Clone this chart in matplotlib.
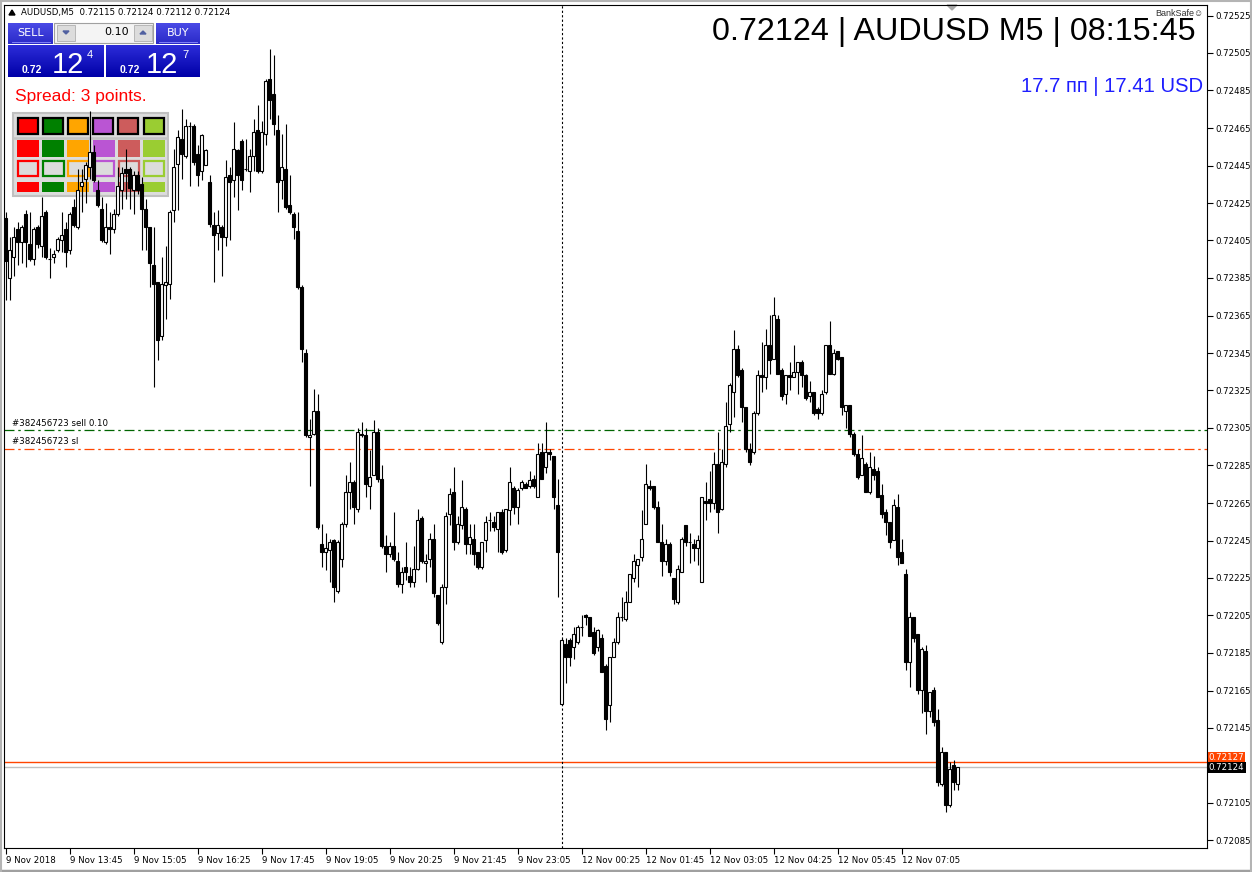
import matplotlib

matplotlib.use("Agg")

import matplotlib.pyplot as plt  # noqa: E402
import numpy as np  # noqa: E402
from matplotlib.patches import Polygon, Rectangle  # noqa: E402

# AUDUSD M5, 9 Nov 2018 12:25 -> 12 Nov 2018 08:15 (prices in points, /1e5)
opens = [
    72417, 72385, 72396, 72411, 72404, 72419, 72403, 72395, 72412, 72402,
    72420, 72395, 72396, 72400, 72405, 72411, 72400, 72423, 72412, 72434,
    72438, 72444, 72452, 72432, 72422, 72404, 72412, 72411, 72419, 72432,
    72443, 72443, 72432, 72440, 72435, 72422, 72412, 72392, 72383, 72354,
    72381, 72382, 72421, 72446, 72459, 72450, 72466, 72466, 72451, 72442,
    72445, 72436, 72413, 72409, 72412, 72407, 72440, 72437, 72453, 72458,
    72443, 72442, 72450, 72464, 72442, 72462, 72491, 72483, 72464, 72437,
    72443, 72424, 72419, 72410, 72380, 72345, 72300, 72302, 72314, 72243,
    72239, 72240, 72245, 72218, 72235, 72254, 72271, 72276, 72262, 72302,
    72301, 72274, 72280, 72303, 72278, 72242, 72238, 72242, 72234, 72222,
    72231, 72226, 72223, 72230, 72257, 72233, 72235, 72246, 72216, 72191,
    72220, 72259, 72271, 72244, 72253, 72262, 72243, 72246, 72239, 72231,
    72245, 72256, 72255, 72251, 72260, 72240, 72261, 72273, 72263, 72273,
    72275, 72274, 72278, 72268, 72292, 72284, 72292, 72290, 72264, 72158,
    72190, 72192, 72188, 72191, 72199, 72205, 72204, 72196, 72188, 72193,
    72178, 72157, 72183, 72191, 72204, 72203, 72212, 72225, 72232, 72236,
    72254, 72274, 72274, 72263, 72244, 72234, 72243, 72225, 72212, 72228,
    72253, 72244, 72243, 72241, 72223, 72266, 72267, 72265, 72286, 72262,
    72286, 72307, 72324, 72347, 72336, 72316, 72294, 72292, 72313, 72333,
    72332, 72349, 72342, 72363, 72336, 72323, 72333, 72332, 72335, 72340,
    72333, 72322, 72324, 72315, 72313, 72324, 72349, 72334, 72346, 72343,
    72314, 72317, 72302, 72291, 72280, 72286, 72271, 72283, 72282, 72269,
    72260, 72255, 72245, 72263, 72239, 72227, 72180, 72204, 72195, 72165,
    72186, 72154, 72165, 72149, 72115, 72132, 72104, 72125, 72115,
]
highs = [
    72420, 72407, 72412, 72415, 72413, 72421, 72420, 72412, 72413, 72428,
    72421, 72401, 72400, 72407, 72420, 72415, 72420, 72427, 72443, 72443,
    72447, 72474, 72456, 72437, 72428, 72425, 72420, 72422, 72444, 72444,
    72454, 72444, 72442, 72442, 72439, 72427, 72412, 72412, 72383, 72396,
    72402, 72421, 72454, 72464, 72475, 72470, 72468, 72467, 72456, 72462,
    72454, 72440, 72420, 72421, 72413, 72448, 72444, 72468, 72454, 72459,
    72459, 72454, 72470, 72477, 72469, 72491, 72507, 72504, 72472, 72462,
    72467, 72440, 72420, 72420, 72381, 72347, 72310, 72326, 72323, 72254,
    72249, 72246, 72246, 72245, 72255, 72280, 72287, 72277, 72305, 72308,
    72305, 72293, 72309, 72305, 72285, 72248, 72244, 72260, 72239, 72231,
    72244, 72231, 72242, 72262, 72258, 72238, 72249, 72254, 72216, 72222,
    72260, 72273, 72284, 72258, 72277, 72263, 72254, 72254, 72239, 72244,
    72258, 72260, 72258, 72260, 72262, 72262, 72284, 72274, 72273, 72277,
    72276, 72282, 72280, 72297, 72297, 72308, 72294, 72290, 72278, 72193,
    72193, 72193, 72199, 72200, 72205, 72206, 72204, 72199, 72198, 72195,
    72179, 72183, 72193, 72207, 72215, 72218, 72227, 72238, 72235, 72261,
    72286, 72277, 72274, 72266, 72254, 72246, 72244, 72225, 72232, 72247,
    72253, 72249, 72246, 72248, 72268, 72276, 72282, 72292, 72303, 72294,
    72319, 72329, 72357, 72349, 72337, 72316, 72297, 72314, 72336, 72351,
    72358, 72365, 72375, 72365, 72337, 72333, 72340, 72349, 72340, 72341,
    72334, 72330, 72324, 72316, 72325, 72349, 72362, 72347, 72346, 72343,
    72317, 72317, 72303, 72294, 72301, 72287, 72292, 72290, 72284, 72275,
    72262, 72255, 72267, 72270, 72246, 72230, 72207, 72204, 72195, 72188,
    72189, 72164, 72167, 72155, 72135, 72132, 72127, 72128, 72124,
]
lows = [
    72373, 72373, 72386, 72392, 72393, 72391, 72394, 72392, 72401, 72396,
    72395, 72385, 72393, 72399, 72399, 72391, 72398, 72412, 72411, 72420,
    72425, 72438, 72436, 72423, 72404, 72403, 72398, 72409, 72418, 72422,
    72427, 72422, 72419, 72430, 72400, 72400, 72380, 72327, 72341, 72352,
    72363, 72374, 72415, 72421, 72438, 72449, 72434, 72445, 72434, 72437,
    72445, 72412, 72383, 72400, 72386, 72402, 72405, 72428, 72421, 72432,
    72442, 72431, 72442, 72441, 72441, 72456, 72470, 72461, 72420, 72427,
    72422, 72419, 72406, 72379, 72340, 72300, 72274, 72301, 72251, 72231,
    72229, 72223, 72212, 72217, 72231, 72252, 72262, 72254, 72260, 72300,
    72268, 72262, 72280, 72276, 72241, 72228, 72236, 72234, 72220, 72217,
    72224, 72220, 72220, 72229, 72233, 72223, 72231, 72215, 72200, 72190,
    72211, 72253, 72240, 72243, 72251, 72238, 72238, 72232, 72230, 72230,
    72239, 72250, 72250, 72239, 72238, 72239, 72253, 72259, 72254, 72272,
    72273, 72273, 72273, 72268, 72278, 72281, 72288, 72262, 72215, 72157,
    72169, 72178, 72182, 72190, 72194, 72200, 72194, 72184, 72186, 72175,
    72144, 72148, 72183, 72190, 72202, 72202, 72212, 72223, 72220, 72234,
    72254, 72272, 72262, 72244, 72226, 72232, 72226, 72211, 72211, 72228,
    72242, 72233, 72234, 72232, 72223, 72256, 72260, 72262, 72249, 72261,
    72284, 72303, 72311, 72332, 72308, 72292, 72285, 72291, 72312, 72324,
    72326, 72334, 72342, 72334, 72320, 72318, 72325, 72332, 72323, 72327,
    72320, 72319, 72312, 72310, 72312, 72323, 72334, 72333, 72341, 72312,
    72305, 72300, 72290, 72278, 72280, 72271, 72270, 72277, 72268, 72257,
    72248, 72241, 72245, 72232, 72233, 72176, 72167, 72191, 72163, 72153,
    72142, 72151, 72146, 72114, 72114, 72100, 72103, 72112, 72112,
]
closes = [
    72394, 72400, 72407, 72404, 72412, 72404, 72395, 72411, 72403, 72418,
    72396, 72395, 72398, 72406, 72408, 72399, 72419, 72413, 72432, 72436,
    72445, 72452, 72437, 72424, 72405, 72412, 72411, 72419, 72434, 72441,
    72441, 72433, 72440, 72432, 72422, 72412, 72393, 72382, 72352, 72382,
    72383, 72420, 72444, 72460, 72451, 72466, 72466, 72447, 72440, 72461,
    72453, 72414, 72408, 72413, 72407, 72439, 72436, 72454, 72440, 72437,
    72443, 72450, 72463, 72442, 72463, 72490, 72480, 72467, 72436, 72444,
    72423, 72420, 72412, 72380, 72347, 72301, 72301, 72314, 72252, 72239,
    72241, 72244, 72220, 72244, 72254, 72271, 72276, 72263, 72303, 72301,
    72275, 72279, 72303, 72278, 72242, 72238, 72242, 72235, 72222, 72228,
    72228, 72223, 72230, 72256, 72234, 72234, 72246, 72217, 72201, 72220,
    72258, 72270, 72244, 72254, 72263, 72243, 72247, 72238, 72231, 72244,
    72255, 72256, 72252, 72260, 72239, 72262, 72276, 72263, 72272, 72276,
    72273, 72277, 72274, 72291, 72278, 72292, 72291, 72268, 72239, 72192,
    72183, 72183, 72195, 72199, 72199, 72204, 72194, 72185, 72197, 72175,
    72150, 72183, 72191, 72204, 72204, 72212, 72227, 72234, 72235, 72246,
    72275, 72273, 72263, 72244, 72234, 72243, 72228, 72214, 72230, 72246,
    72244, 72244, 72241, 72245, 72268, 72265, 72265, 72286, 72260, 72287,
    72306, 72328, 72347, 72333, 72316, 72294, 72287, 72313, 72333, 72332,
    72349, 72341, 72365, 72334, 72322, 72333, 72332, 72335, 72340, 72333,
    72321, 72324, 72313, 72313, 72323, 72349, 72334, 72345, 72342, 72316,
    72317, 72302, 72291, 72279, 72289, 72271, 72284, 72280, 72268, 72259,
    72255, 72244, 72264, 72236, 72233, 72180, 72204, 72193, 72165, 72187,
    72154, 72164, 72148, 72116, 72132, 72104, 72123, 72116, 72124,
]

x_labels = [
    "9 Nov 2018", "9 Nov 13:45", "9 Nov 15:05", "9 Nov 16:25", "9 Nov 17:45",
    "9 Nov 19:05", "9 Nov 20:25", "9 Nov 21:45", "9 Nov 23:05", "12 Nov 00:25",
    "12 Nov 01:45", "12 Nov 03:05", "12 Nov 04:25", "12 Nov 05:45", "12 Nov 07:05",
]
y_ticks = [0.72525 - 0.0002 * k for k in range(23)]

bid, ask = 0.72124, 0.72127
order_price, sl_price = 0.72304, 0.72294
day_break = 139  # first bar of 12 Nov
palette = ["#ff0000", "#008000", "#ffa500", "#ba55d3", "#cd5c5c", "#9acd32"]

W, H = 1252, 872
fig = plt.figure(figsize=(W / 100, H / 100), dpi=100)
fig.patch.set_facecolor("white")

# pixel-space overlay for the terminal widgets
ui = fig.add_axes([0, 0, 1, 1], zorder=0)
ui.axis("off")

ax = fig.add_axes([4 / W, (H - 848) / H, 1203 / W, 843 / H], zorder=1)
ax.patch.set_alpha(0)

o = np.array(opens) / 1e5
h = np.array(highs) / 1e5
lo = np.array(lows) / 1e5
c = np.array(closes) / 1e5
xs = np.arange(len(o))

ax.vlines(xs, lo, h, color="black", lw=0.8, zorder=3)
for i in xs:
    bottom, top = min(o[i], c[i]), max(o[i], c[i])
    if top - bottom < 1e-7:
        ax.hlines(o[i], i - 0.37, i + 0.37, color="black", lw=0.8, zorder=4)
        continue
    face = "white" if c[i] > o[i] else "black"
    ax.add_patch(Rectangle((i - 0.3, bottom), 0.6, top - bottom,
                           facecolor=face, edgecolor="black", lw=0.8, zorder=4))

ax.set_xlim(-0.4, 300.35)
ax.set_ylim(0.72081, 0.725306)

# price / order lines
ax.axhline(ask, color="#ff4500", lw=1.0, zorder=2)
ax.axhline(bid, color="#c0c0c0", lw=1.0, zorder=2)
ax.axhline(order_price, color="#006400", lw=0.9, ls=(0, (8, 3, 2, 3)), zorder=2)
ax.axhline(sl_price, color="#ff4500", lw=0.9, ls=(0, (8, 3, 2, 3)), zorder=2)
ax.axvline(day_break, color="black", lw=0.8, ls=(0, (2, 2)), zorder=2)
ax.text(1.5, order_price + 0.000012, "#382456723 sell 0.10", fontsize=6.2, va="bottom")
ax.text(1.5, sl_price + 0.000012, "#382456723 sl", fontsize=6.2, va="bottom")

# axes cosmetics
for sp in ax.spines.values():
    sp.set_linewidth(0.8)
ax.yaxis.tick_right()
ax.set_yticks(y_ticks)
# the 0.72125 label sits under the bid/ask boxes, so the terminal hides it
ax.set_yticklabels(["" if abs(v - 0.72125) < 1e-7 else f"{v:.5f}" for v in y_ticks])
ax.set_xticks(np.arange(0, 16 * len(x_labels), 16))
ax.set_xticklabels(x_labels)
for lbl in ax.get_xticklabels():
    lbl.set_ha("left")
ax.tick_params(axis="both", labelsize=6.2, length=4, width=0.8, direction="out", pad=2)

ytf = ax.get_yaxis_transform()
ax.text(1.0015, ask, "0.72127", transform=ytf, fontsize=6.2, va="bottom", color="white",
        bbox=dict(boxstyle="square,pad=0.12", fc="#ff4500", ec="none"), zorder=5)
ax.text(1.0015, bid, "0.72124", transform=ytf, fontsize=6.2, va="center", color="white",
        bbox=dict(boxstyle="square,pad=0.15", fc="black", ec="none"), zorder=6)

# ---- overlay widgets (pixel coords, y down) ----
ui.set_xlim(0, W)
ui.set_ylim(H, 0)


def gradient(x0, y0, x1, y1, top, bot):
    t = np.array(matplotlib.colors.to_rgb(top))
    b = np.array(matplotlib.colors.to_rgb(bot))
    g = np.linspace(0, 1, 32)[:, None, None]
    img = t + (b - t) * g
    ui.imshow(np.repeat(img, 2, axis=1), extent=(x0, x1, y1, y0), aspect="auto",
              interpolation="bilinear", zorder=1)


ui.add_patch(Polygon([[9, 15], [15, 15], [12, 10]], closed=True, color="black"))
ui.text(21, 12.5, "AUDUSD,M5  0.72115 0.72124 0.72112 0.72124", fontsize=6.2, va="center")

# one-click panel
gradient(8, 23, 53, 44, "#4a4ae6", "#2a2ac8")
gradient(156, 23, 200, 44, "#4a4ae6", "#2a2ac8")
gradient(8, 45, 104, 77, "#2c2cd8", "#0000a8")
gradient(106, 45, 200, 77, "#2c2cd8", "#0000a8")
ui.plot([12, 50], [42.5, 42.5], color="#9090ff", lw=0.6, zorder=2)
ui.plot([159, 197], [42.5, 42.5], color="#9090ff", lw=0.6, zorder=2)
ui.add_patch(Rectangle((54, 23), 99, 20, fc="#f4f4f4", ec="#a0a0a0", lw=0.8, zorder=1))
ui.add_patch(Rectangle((57, 25), 18, 16, fc="#dcdcdc", ec="#b0b0b0", lw=0.6, zorder=2))
ui.add_patch(Rectangle((134, 25), 18, 16, fc="#dcdcdc", ec="#b0b0b0", lw=0.6, zorder=2))
ui.add_patch(Polygon([[63, 31], [69, 31], [66, 34]], color="#5060a0", zorder=3))
ui.add_patch(Polygon([[140, 34], [146, 34], [143, 31]], color="#5060a0", zorder=3))
ui.text(129, 32, "0.10", fontsize=8, ha="right", va="center", zorder=3)
ui.text(30.5, 33, "SELL", fontsize=8, color="white", ha="center", va="center", zorder=3)
ui.text(178, 33, "BUY", fontsize=8, color="white", ha="center", va="center", zorder=3)
for x_small, x_big, x_sup, sup in [(22, 52, 87, "4"), (120, 146, 182, "7")]:
    ui.text(x_small, 73, "0.72", fontsize=7.5, fontweight="bold", color="white",
            va="baseline", zorder=3, family="Liberation Sans")
    ui.text(x_big, 73, "12", fontsize=21, color="white", va="baseline", zorder=3,
            family="Liberation Sans")
    ui.text(x_sup, 58, sup, fontsize=8, color="white", va="baseline", zorder=3,
            family="Liberation Sans")

ui.text(15, 97, "Spread: 3 points.", fontsize=12.5, color="#ff0000", va="center",
        family="Liberation Sans")

# colour picker panel
ui.add_patch(Rectangle((13, 113.5), 155, 83, fc="#dcdcdc", ec="#c0c0c0", lw=1.5, zorder=1))
ui.plot([14, 167], [138, 138], color="#c4c4c4", lw=1.8, zorder=1)
for k, col in enumerate(palette):
    x0 = 17 + 25.2 * k
    ui.add_patch(Rectangle((x0 + 0.5, 118.5), 20, 16, fc=col, ec="black", lw=1.6, zorder=1))
    ui.add_patch(Rectangle((x0, 140.5), 22, 16.5, fc=col, ec="none", zorder=1))
    ui.add_patch(Rectangle((x0 + 0.7, 161.5), 20.6, 15, fc="#dcdcdc", ec=col, lw=1.6, zorder=1))
    ui.add_patch(Rectangle((x0, 182.5), 22, 10, fc=col, ec="none", zorder=1))

# header text on the right
ui.text(1196, 40, "0.72124 | AUDUSD M5 | 08:15:45", fontsize=23.2, ha="right",
        va="baseline", family="Liberation Sans")
ui.text(1203, 87, "17.7 пп | 17.41 USD", fontsize=14.6, ha="right", va="center",
        color="#1e1eff", family="Liberation Sans")
ui.text(1203, 13, "BankSafe☺", fontsize=6.5, ha="right", va="center", color="#303030",
        family=["Liberation Sans", "DejaVu Sans"])
ui.add_patch(Polygon([[947, 5], [957, 5], [952, 10]], color="#a8a8a8"))

# terminal window edges
ui.plot([0, W], [870.5, 870.5], color="#a0a0a0", lw=2.5)
ui.plot([1, 1], [0, H], color="#b4b4b4", lw=1.5)
ui.plot([W - 1, W - 1], [0, H], color="#b4b4b4", lw=1.5)
ui.plot([0, W], [1, 1], color="#b4b4b4", lw=1.5)
ui.set_xlim(0, W)
ui.set_ylim(H, 0)

fig.savefig("out.png", dpi=100)
